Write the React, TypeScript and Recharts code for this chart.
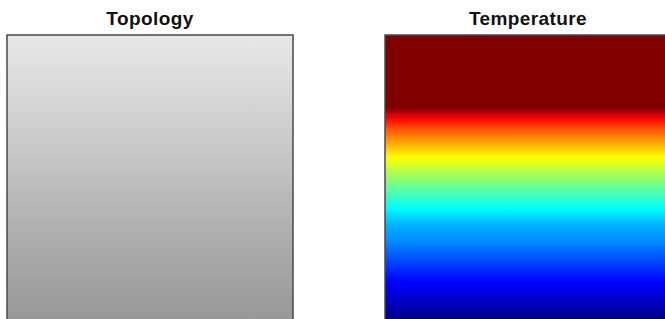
import { BarChart, Bar, XAxis, YAxis } from 'recharts';

// depth down the profile (km) and the temperature read at each depth
const depthKm = [0, 10, 20, 25.5, 29, 33, 42.7, 49, 60.5, 66.4, 71.7, 86.4, 100];
const temperatureC = [1000, 1000, 1000, 1000, 875, 790, 625, 530, 375, 300, 265, 125, 0];

// topology profile: elevation at each depth level
const topoDepthKm = [0, 22, 49, 72, 100];
const elevationM = [910, 843, 753, 675, 596];

const panels = ['Topology', 'Temperature'];
const columnData = [{ name: 'profile', depth: 100 }];

const clamp = (v: number) => Math.max(0, Math.min(1, v));

function jet(t: number) {
  const r = clamp(1.5 - Math.abs(4 * t - 3));
  const g = clamp(1.5 - Math.abs(4 * t - 2));
  const b = clamp(1.5 - Math.abs(4 * t - 1));
  return `rgb(${Math.round(r * 255)},${Math.round(g * 255)},${Math.round(b * 255)})`;
}

function gray(t: number) {
  const v = Math.round(clamp(t) * 255);
  return `rgb(${v},${v},${v})`;
}

const tempMin = 0;
const tempMax = 1000;
const elevMax = 1000;

function Panel({ title, left, gradId, stops }: { title: string; left: number; gradId: string; stops: { offset: number; color: string }[] }) {
  return (
    <div style={{ position: 'absolute', left, top: 0, width: 300 }}>
      <div
        style={{
          position: 'absolute',
          left: 0,
          top: 8,
          width: 300,
          textAlign: 'center',
          fontFamily: 'Liberation Sans, Arial, sans-serif',
          fontWeight: 'bold',
          fontSize: 19,
          letterSpacing: 0.4,
          color: '#111',
        }}
      >
        {title}
      </div>
      <BarChart width={300} height={330} data={columnData} margin={{ top: 35, right: 7, bottom: 9, left: 7 }} barCategoryGap={0}>
        <defs>
          <linearGradient id={gradId} x1="0" y1="0" x2="0" y2="1">
            {stops.map((s, i) => (
              <stop key={i} offset={s.offset} stopColor={s.color} />
            ))}
          </linearGradient>
        </defs>
        <XAxis dataKey="name" hide />
        <YAxis hide reversed domain={[0, 100]} />
        <Bar dataKey="depth" fill={`url(#${gradId})`} stroke="#4a4a4a" strokeWidth={1.5} isAnimationActive={false} />
      </BarChart>
    </div>
  );
}

export default function App() {
  const topoStops = topoDepthKm.map((d, i) => ({ offset: d / 100, color: gray(elevationM[i] / elevMax) }));
  const tempStops = depthKm.map((d, i) => ({
    offset: d / 100,
    color: jet((temperatureC[i] - tempMin) / (tempMax - tempMin)),
  }));
  return (
    <div style={{ position: 'absolute', left: 0, top: 0, width: 665, height: 319, overflow: 'hidden', background: '#fff' }}>
      <Panel title={panels[0]} left={0} gradId="topoGrad" stops={topoStops} />
      <Panel title={panels[1]} left={378} gradId="tempGrad" stops={tempStops} />
    </div>
  );
}
